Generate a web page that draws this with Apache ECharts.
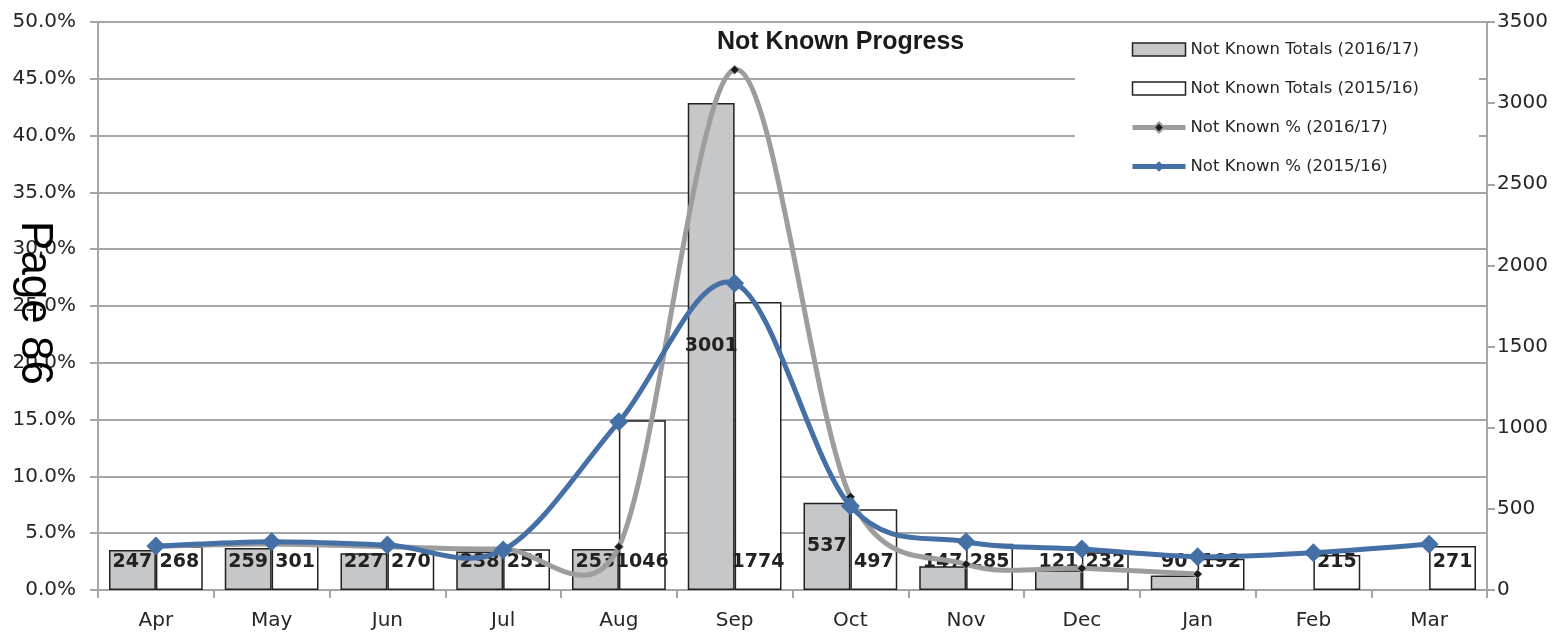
<!DOCTYPE html>
<html><head><meta charset="utf-8">
<script src="https://cdn.jsdelivr.net/npm/echarts@6/dist/echarts.min.js"></script>
<style>html,body{margin:0;padding:0;background:#fff}#c{width:1566px;height:636px}</style>
</head><body><div id="c"></div>
<script>
const months = ['Apr','May','Jun','Jul','Aug','Sep','Oct','Nov','Dec','Jan','Feb','Mar'];
const totals1617 = [247, 259, 227, 238, 253, 3001, 537, 147, 121, 90, null, null];
const totals1516 = [268, 301, 270, 251, 1046, 1774, 497, 285, 232, 192, 215, 271];
const pct1617 = [3.85, 4.05, 3.8, 3.6, 3.8, 45.8, 8.2, 2.26, 1.91, 1.4, null, null];
const pct1516 = [3.87, 4.25, 3.96, 3.52, 14.8, 27.0, 7.4, 4.25, 3.6, 2.93, 3.28, 4.02];
const seriesNames = ['Not Known Totals (2016/17)', 'Not Known Totals (2015/16)', 'Not Known % (2016/17)', 'Not Known % (2015/16)'];
const chartTitle = 'Not Known Progress';
const pageText = 'Page 86';

const FONT = 'DejaVu Sans';
const GRID = '#a6a6a6';
const BAR_GRAY = '#c6c7c9';
const LINE_GRAY = '#9d9d9d';
const BLUE = '#4470a6';
const centeredLabelIdx = [5, 6];

const barLabel = {
  show: true, position: 'insideBottom', distance: 18,
  fontFamily: FONT, fontWeight: 'bold', fontSize: 19, color: '#222'
};

// Spreadsheet-style smoothed curve drawn through the chart's own coordinate system
function smoothCurve(values, color, width) {
  function cp(base, a, b, segLen, sign) {
    let dx = (b[0] - a[0]) / 6, dy = (b[1] - a[1]) / 6;
    const len = Math.hypot(dx, dy), lim = 0.6 * segLen;
    if (len > lim && len > 0) { dx *= lim / len; dy *= lim / len; }
    return [base[0] + sign * dx, base[1] + sign * dy];
  }
  return function (params, api) {
    if (params.dataIndex !== 0) return null;
    const runs = [];
    let cur = [];
    values.forEach((v, i) => {
      if (v == null) { if (cur.length) runs.push(cur); cur = []; }
      else cur.push(api.coord([i, v]));
    });
    if (cur.length) runs.push(cur);
    const children = [];
    runs.forEach(pts => {
      for (let i = 0; i < pts.length - 1; i++) {
        const p0 = pts[i - 1] || pts[i], p1 = pts[i], p2 = pts[i + 1], p3 = pts[i + 2] || pts[i + 1];
        const seg = Math.hypot(p2[0] - p1[0], p2[1] - p1[1]);
        const c1 = cp(p1, p0, p2, seg, 1);
        const c2 = cp(p2, p1, p3, seg, -1);
        children.push({
          type: 'bezierCurve',
          shape: {x1: p1[0], y1: p1[1], x2: p2[0], y2: p2[1], cpx1: c1[0], cpy1: c1[1], cpx2: c2[0], cpy2: c2[1]},
          style: {stroke: color, lineWidth: width, fill: null, lineCap: 'round'}
        });
      }
    });
    return {type: 'group', children};
  };
}

const chart = echarts.init(document.getElementById('c'), null, {renderer: 'canvas'});
chart.setOption({
  backgroundColor: '#fff',
  animation: false,
  title: {
    text: chartTitle, left: 717, top: 30, padding: 0,
    textStyle: {fontFamily: 'Liberation Sans', fontWeight: 'bold', fontSize: 25, color: '#1a1a1a'}
  },
  legend: {
    orient: 'vertical', left: 1075, top: 24,
    padding: [17, 60, 12, 55],
    backgroundColor: '#fff',
    itemWidth: 53, itemHeight: 13, itemGap: 22,
    textStyle: {fontFamily: FONT, fontSize: 16.5, color: '#262626'},
    data: [
      {name: seriesNames[0], icon: 'rect', itemStyle: {color: BAR_GRAY, borderColor: '#222', borderWidth: 1.5}},
      {name: seriesNames[1], icon: 'rect', itemStyle: {color: '#fff', borderColor: '#222', borderWidth: 1.5}},
      {name: seriesNames[2], lineStyle: {color: LINE_GRAY, width: 5, opacity: 1}},
      {name: seriesNames[3], lineStyle: {color: BLUE, width: 5, opacity: 1}}
    ]
  },
  graphic: [{
    type: 'text', x: 34, y: 303, rotation: -Math.PI / 2, z: 100,
    style: {text: pageText, fontFamily: 'Liberation Sans', fontSize: 44, fill: '#000', align: 'center', verticalAlign: 'middle'}
  }],
  grid: {left: 98, right: 79, top: 22, bottom: 46, containLabel: false, outerBoundsMode: 'none'},
  xAxis: {
    type: 'category', data: months, boundaryGap: true,
    axisLine: {show: true, lineStyle: {color: GRID, width: 2}},
    axisTick: {show: true, length: 8, lineStyle: {color: GRID, width: 2}},
    axisLabel: {margin: 21, fontFamily: FONT, fontSize: 20, color: '#262626'},
    splitLine: {show: false}
  },
  yAxis: [{
    type: 'value', min: 0, max: 50, interval: 5, position: 'left',
    axisLine: {show: true, lineStyle: {color: GRID, width: 2}},
    axisTick: {show: true, length: 8, lineStyle: {color: GRID, width: 2}},
    axisLabel: {margin: 22, fontFamily: FONT, fontSize: 20, color: '#262626', formatter: v => v.toFixed(1) + '%'},
    splitLine: {show: true, lineStyle: {color: GRID, width: 2}}
  }, {
    type: 'value', min: 0, max: 3500, interval: 500, position: 'right',
    axisLine: {show: true, lineStyle: {color: GRID, width: 2}},
    axisTick: {show: true, length: 8, lineStyle: {color: GRID, width: 2}},
    axisLabel: {margin: 10, fontFamily: FONT, fontSize: 20, color: '#262626', formatter: v => String(v)},
    splitLine: {show: false}
  }],
  series: [{
    name: seriesNames[0], type: 'bar', yAxisIndex: 1,
    data: totals1617.map((v, i) => centeredLabelIdx.includes(i) ? {value: v, label: {position: 'inside'}} : v),
    barGap: '0%', barCategoryGap: '19%',
    itemStyle: {color: BAR_GRAY, borderColor: '#222', borderWidth: 1.5},
    label: barLabel
  }, {
    name: seriesNames[1], type: 'bar', yAxisIndex: 1,
    data: totals1516,
    barGap: '0%', barCategoryGap: '19%',
    itemStyle: {color: '#fff', borderColor: '#222', borderWidth: 1.5},
    label: barLabel
  }, {
    name: 'curve1617', type: 'custom', yAxisIndex: 0, z: 3, silent: true,
    renderItem: smoothCurve(pct1617, LINE_GRAY, 5),
    data: months.map((m, i) => [i, pct1617[i] == null ? 0 : pct1617[i]]),
    encode: {x: 0, y: 1}
  }, {
    name: seriesNames[2], type: 'line', yAxisIndex: 0,
    data: pct1617, connectNulls: false,
    symbol: 'diamond', symbolSize: 9, showSymbol: true,
    lineStyle: {color: LINE_GRAY, width: 5, opacity: 0},
    itemStyle: {color: '#1a1a1a', borderColor: LINE_GRAY, borderWidth: 1},
    z: 4
  }, {
    name: 'curve1516', type: 'custom', yAxisIndex: 0, z: 5, silent: true,
    renderItem: smoothCurve(pct1516, BLUE, 5),
    data: months.map((m, i) => [i, pct1516[i]]),
    encode: {x: 0, y: 1}
  }, {
    name: seriesNames[3], type: 'line', yAxisIndex: 0,
    data: pct1516,
    symbol: 'diamond', symbolSize: 19, showSymbol: true,
    lineStyle: {color: BLUE, width: 5, opacity: 0},
    itemStyle: {color: BLUE},
    z: 6
  }]
});
</script></body></html>
